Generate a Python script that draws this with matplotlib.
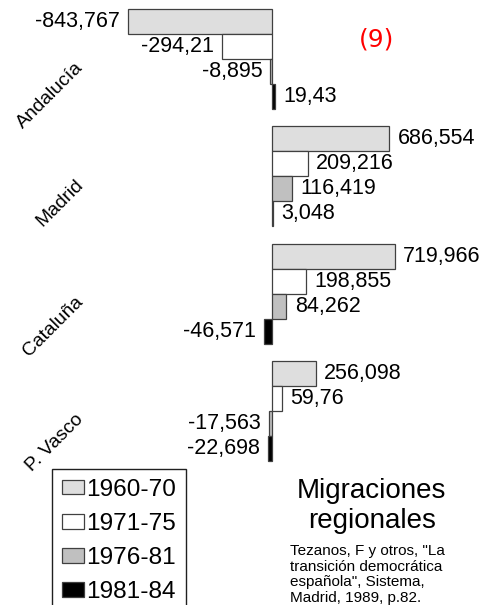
import matplotlib
matplotlib.use("Agg")
import matplotlib.pyplot as plt
import numpy as np

plt.rcParams['font.family'] = ['Liberation Sans', 'DejaVu Sans']

# data
regions = ['Andalucía', 'Madrid', 'Cataluña', 'P. Vasco']
periods = ['1960-70', '1971-75', '1976-81', '1981-84']
v1960 = [-843.767, 686.554, 719.966, 256.098]
v1971 = [-294.21, 209.216, 198.855, 59.76]
v1976 = [-8.895, 116.419, 84.262, -17.563]
v1981 = [19.43, 3.048, -46.571, -22.698]
labels1960 = ['-843,767', '686,554', '719,966', '256,098']
labels1971 = ['-294,21', '209,216', '198,855', '59,76']
labels1976 = ['-8,895', '116,419', '84,262', '-17,563']
labels1981 = ['19,43', '3,048', '-46,571', '-22,698']

colors = ['#dedede', '#ffffff', '#c0c0c0', '#000000']

W, H = 483, 605
fig = plt.figure(figsize=(W / 100, H / 100), dpi=100)
ax = fig.add_axes([118.3 / W, (H - 470) / H, 307.4 / W, 470 / H])

bh = 0.2128
y = np.arange(len(regions))
series = [v1960, v1971, v1976, v1981]
texts = [labels1960, labels1971, labels1976, labels1981]
handles = []
for j, (vals, labs) in enumerate(zip(series, texts)):
    pos = y + (j - 1.5) * bh
    bars = ax.barh(pos, vals, height=bh, color=colors[j], edgecolor='#404040',
                   linewidth=0.9, label=periods[j])
    handles.append(bars)
    for b, v, t in zip(bars, vals, labs):
        off = 6 if v >= 0 else -6
        ax.annotate(t, (v, b.get_y() + bh / 2), xytext=(off, 0),
                    textcoords='offset points', va='center',
                    ha='left' if v >= 0 else 'right', fontsize=15.5)

ax.set_xlim(-900, 900)
ax.set_ylim(3.5, -0.5)
ax.set_yticks(y, regions, rotation=45, rotation_mode='anchor', ha='right',
              va='top', fontsize=13.9)
ax.tick_params(axis='y', length=0, pad=31.5)
ax.xaxis.set_visible(False)
for s in ax.spines.values():
    s.set_visible(False)

fig.text(377 / W, 1 - 40 / H, '(9)', color='red', fontsize=18,
         family='DejaVu Sans', ha='center', va='center')

leg = fig.legend(handles=handles, labels=periods, loc='upper left',
                 bbox_to_anchor=(52 / W, 1 - 469 / H), fontsize=17.6,
                 frameon=True, fancybox=False, framealpha=1, edgecolor='#202020',
                 borderpad=0.4, labelspacing=0.5, handlelength=0.9,
                 handleheight=0.55, handletextpad=0.1, borderaxespad=0)
leg.get_frame().set_linewidth(1.0)

fig.text(371 / W, 1 - 498 / H, 'Migraciones', fontsize=20, ha='center', va='baseline')
fig.text(372 / W, 1 - 528 / H, 'regionales', fontsize=20, ha='center', va='baseline')
source = ['Tezanos, F y otros, "La', 'transición democrática',
          'española", Sistema,', 'Madrid, 1989, p.82.']
for i, line in enumerate(source):
    fig.text(290 / W, 1 - (555 + 15.7 * i) / H, line, fontsize=11, va='baseline')

fig.savefig('out.png', dpi=100)
